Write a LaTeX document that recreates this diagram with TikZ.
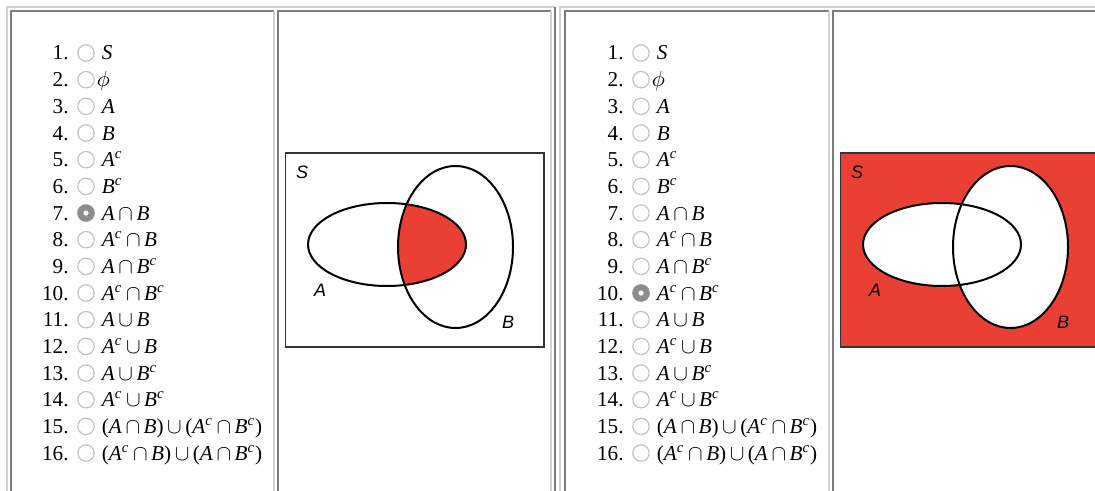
\documentclass[tikz,border=0pt]{standalone}
\usepackage{fontspec}
\setmainfont{Liberation Serif}
\setsansfont{Liberation Sans}
\usepackage{amsmath,amssymb}
\usetikzlibrary{positioning}
\definecolor{vennred}{RGB}{234,64,52}
\definecolor{boxdark}{RGB}{125,125,125}
\definecolor{boxlight}{RGB}{210,210,210}
\definecolor{radioring}{RGB}{195,195,195}
\definecolor{radiofill}{RGB}{140,140,140}
\newcommand{\vs}[1]{\textit{#1}}
\newcommand{\cpl}{\textsuperscript{\textit{c}}}
\newcommand{\capop}{\,$\cap$\,}
\newcommand{\cupop}{\,$\cup$\,}

\begin{document}
\begin{tikzpicture}[x=0.5pt,y=-0.5pt,font=\fontsize{10.6}{12}\selectfont,
  radiooff/.style={circle,draw=radioring,fill=white,line width=0.6pt,inner sep=0pt,minimum size=8.2pt},
  radioon/.style={circle,draw=radiofill,fill=radiofill,line width=0.6pt,inner sep=0pt,minimum size=8.2pt,
    path picture={\fill[white] (path picture bounding box.center) circle (1.3pt);}},
  itemnum/.style={anchor=base east,inner sep=0pt},
  itemtxt/.style={anchor=base west,inner sep=0pt},
  setlabel/.style={font=\fontsize{9}{11}\selectfont\sffamily\itshape,inner sep=0pt},
  framebox/.style={draw=black!80,line width=0.6pt}]
\clip (0,0) rectangle (1095,491);
\fill[white] (0,0) rectangle (1095,491);

% table borders
\draw[boxlight,line width=0.6pt] (7,500) |- (555,7);
\draw[boxdark,line width=0.6pt] (555,7) -- (555,500);
\draw[boxdark,line width=0.6pt] (11,500) |- (274,11);
\draw[boxlight,line width=0.6pt] (274,11) -- (274,500);
\draw[boxdark,line width=0.6pt] (278,500) |- (551,11);
\draw[boxlight,line width=0.6pt] (551,11) -- (551,500);
\draw[boxlight,line width=0.6pt] (560,500) |- (1100,7);
\draw[boxdark,line width=0.6pt] (565,500) |- (829,11);
\draw[boxlight,line width=0.6pt] (829,11) -- (829,500);
\draw[boxdark,line width=0.6pt] (833,500) |- (1100,11);

% answer lists
\foreach \dx/\sel/\tn in {0/7/a,555/10/b}{
  \foreach \i/\txt in {1/\vs{S},2/$\phi$,3/\vs{A},4/\vs{B},5/\vs{A}\cpl,6/\vs{B}\cpl,
    7/\vs{A}\capop\vs{B},8/\vs{A}\cpl\capop\vs{B},9/\vs{A}\capop\vs{B}\cpl,
    10/\vs{A}\cpl\capop\vs{B}\cpl,11/\vs{A}\cupop\vs{B},12/\vs{A}\cpl\cupop\vs{B},
    13/\vs{A}\cupop\vs{B}\cpl,14/\vs{A}\cpl\cupop\vs{B}\cpl,
    15/(\vs{A}\capop\vs{B})\cupop(\vs{A}\cpl\capop\vs{B}\cpl),
    16/(\vs{A}\cpl\capop\vs{B})\cupop(\vs{A}\capop\vs{B}\cpl)}{
    \pgfmathsetmacro\yb{60+(\i-1)*26.67}
    \ifnum\i=\sel \def\rstyle{radioon}\else\def\rstyle{radiooff}\fi
    \ifnum\i=2 \def\tx{96.5}\else\def\tx{101.5}\fi
    \node[itemnum] (n\tn\i) at (69+\dx,\yb) {\i.};
    \node[\rstyle] (r\tn\i) at (86+\dx,\yb-7) {};
    \node[itemtxt] (t\tn\i) at (\tx+\dx,\yb) {\txt};
  }
}

% Venn diagram: A intersect B
\draw[framebox] (285.7,153) rectangle (544,347);
\begin{scope}
  \clip (387,244.5) ellipse [x radius=79,y radius=41.5];
  \fill[vennred] (455.5,247) ellipse [x radius=57.5,y radius=81];
\end{scope}
\draw[line width=1pt] (387,244.5) ellipse [x radius=79,y radius=41.5];
\draw[line width=1pt] (455.5,247) ellipse [x radius=57.5,y radius=81];
\node[setlabel] (sa) at (302,172) {S};
\node[setlabel] (aa) at (320,290) {A};
\node[setlabel] (ba) at (508,322) {B};

% Venn diagram: complement of A union B
\begin{scope}[shift={(555,0)}]
  \fill[vennred] (285.7,153) rectangle (544,347);
  \draw[framebox] (285.7,153) rectangle (544,347);
  \fill[white] (387,244.5) ellipse [x radius=79,y radius=41.5];
  \fill[white] (455.5,247) ellipse [x radius=57.5,y radius=81];
  \draw[line width=1pt] (387,244.5) ellipse [x radius=79,y radius=41.5];
  \draw[line width=1pt] (455.5,247) ellipse [x radius=57.5,y radius=81];
  \node[setlabel] (sb) at (302,172) {S};
  \node[setlabel] (ab) at (320,290) {A};
  \node[setlabel] (bb) at (508,322) {B};
\end{scope}
\end{tikzpicture}
\end{document}
